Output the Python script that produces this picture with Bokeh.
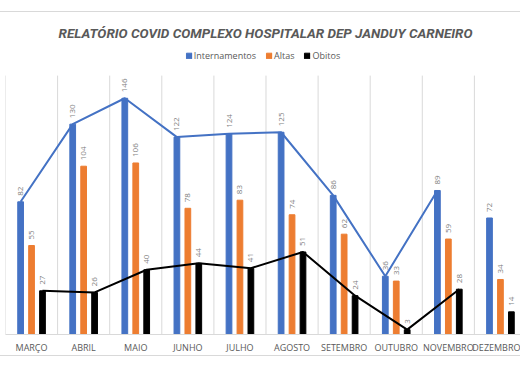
import math
from bokeh.plotting import figure
from bokeh.models import ColumnDataSource, FixedTicker, Range1d, Legend, LegendItem, Label
from bokeh.transform import dodge
from bokeh.embed import file_html
from bokeh.resources import INLINE
from bokeh.core.properties import value

months = ["MARÇO", "ABRIL", "MAIO", "JUNHO", "JULHO", "AGOSTO",
          "SETEMBRO", "OUTUBRO", "NOVEMBRO", "DEZEMBRO"]
internamentos = [82, 130, 146, 122, 124, 125, 86, 36, 89, 72]
altas = [55, 104, 106, 78, 83, 74, 62, 33, 59, 34]
obitos = [27, 26, 40, 44, 41, 51, 24, 3, 28, 14]
n_line = 9  # trend lines drawn from MARÇO to NOVEMBRO

Y_MAX = 160
OFF = 0.21
W = 0.11

idx = list(range(len(months)))
src = ColumnDataSource(dict(
    x=idx, inter=internamentos, altas=altas, obitos=obitos,
    l_inter=[str(v) for v in internamentos],
    l_altas=[str(v) for v in altas],
    l_obitos=[str(v) for v in obitos],
))
lsrc = ColumnDataSource(dict(x=idx[:n_line], inter=internamentos[:n_line], obitos=obitos[:n_line]))

p = figure(width=520, height=345, x_range=Range1d(-0.5, 9.385), y_range=Range1d(0, 199),
           output_backend="svg", toolbar_location=None, y_axis_location=None,
           min_border_left=5, min_border_right=0, min_border_top=0, min_border_bottom=23)
p.styles = {"margin-top": "11px", "border-top": "1px solid #d9d9d9",
            "border-bottom": "1px solid #d9d9d9"}
p.outline_line_color = None
p.xgrid.visible = False
p.ygrid.visible = False

bounds = [i - 0.5 for i in range(len(months) + 1)]
p.segment(x0=bounds, y0=[0] * len(bounds), x1=bounds, y1=[Y_MAX] * len(bounds),
          line_color="#d9d9d9", line_width=1)

r1 = p.vbar(x=dodge("x", -OFF), top="inter", width=W, source=src, color="#4472C4")
r2 = p.vbar(x=dodge("x", 0), top="altas", width=W, source=src, color="#ED7D31")
r3 = p.vbar(x=dodge("x", OFF), top="obitos", width=W, source=src, color="#000000")

p.line(x=dodge("x", -OFF), y="inter", source=lsrc, line_color="#4472C4", line_width=2)
p.line(x=dodge("x", OFF), y="obitos", source=lsrc, line_color="#000000", line_width=2)

for d, col, lab in [(-OFF, "inter", "l_inter"), (0, "altas", "l_altas"), (OFF, "obitos", "l_obitos")]:
    p.text(x=dodge("x", d), y=col, text=lab, source=src, angle=math.pi / 2,
           text_align="left", text_baseline="middle", y_offset=-6,
           text_font_size="8px", text_color="#808080", text_font=value("Open Sans"))

ax = p.xaxis[0]
ax.ticker = FixedTicker(ticks=idx)
ax.major_label_overrides = {i: m for i, m in enumerate(months)}
ax.major_tick_line_color = None
ax.major_tick_out = 0
ax.major_tick_in = 0
ax.minor_tick_line_color = None
ax.minor_tick_out = 0
ax.axis_line_color = "#d9d9d9"
ax.major_label_text_font_size = "9px"
ax.major_label_text_color = "#595959"
ax.major_label_text_font = "Open Sans"
ax.major_label_standoff = 6

legend = Legend(items=[LegendItem(label="Internamentos", renderers=[r1]),
                       LegendItem(label="Altas", renderers=[r2]),
                       LegendItem(label="Obitos", renderers=[r3])],
                location="top_center", orientation="horizontal")
legend.glyph_width = 7
legend.glyph_height = 7
legend.label_height = 12
legend.label_standoff = 2
legend.spacing = 9
legend.padding = 0
legend.margin = 37
legend.label_text_font_size = "9px"
legend.label_text_color = "#595959"
legend.label_text_font = "Open Sans"
legend.background_fill_alpha = 0
legend.border_line_color = None
p.add_layout(legend)

title = Label(x=260, y=302, x_units="screen", y_units="screen",
              text="RELATÓRIO COVID COMPLEXO HOSPITALAR DEP JANDUY CARNEIRO",
              text_align="center", text_baseline="middle", text_font_size="13.5px",
              text_font_style="bold italic", text_color="#595959",
              text_font="Roboto")
p.add_layout(title)

open("out.html", "w").write(file_html(p, INLINE))
